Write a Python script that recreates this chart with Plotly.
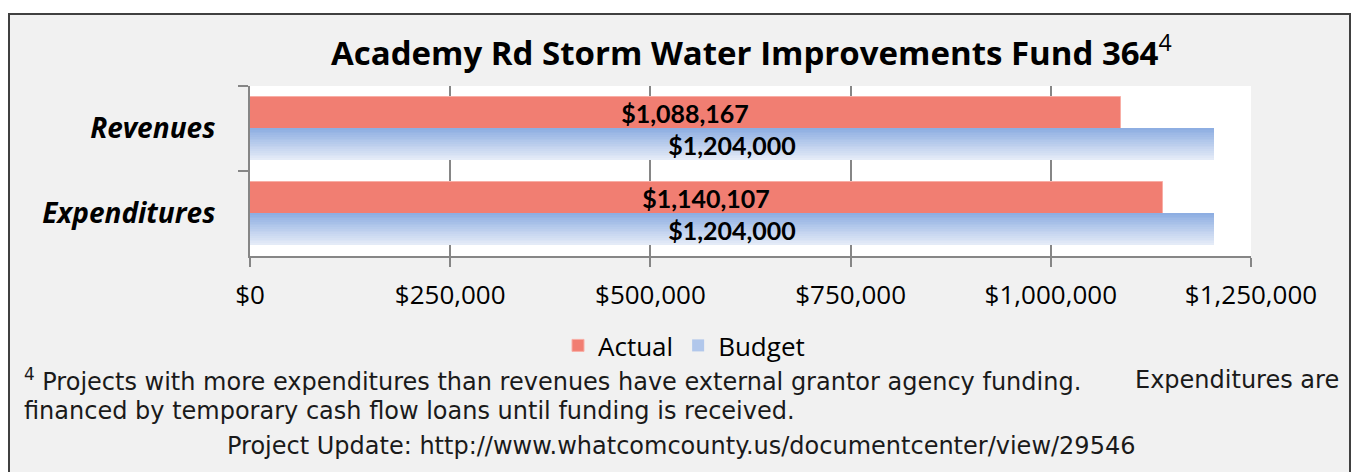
import plotly.graph_objects as go

# ---- data -------------------------------------------------------------
categories = ["Revenues", "Expenditures"]
actual = [1088167, 1140107]
budget = [1204000, 1204000]
actual_labels = ["$1,088,167", "$1,140,107"]
budget_labels = ["$1,204,000", "$1,204,000"]
tick_values = [0, 250000, 500000, 750000, 1000000, 1250000]
tick_labels = ["$0", "$250,000", "$500,000", "$750,000", "$1,000,000", "$1,250,000"]

title_text = "Academy Rd Storm Water Improvements Fund 364"
note_line1a = "<sup>4</sup> Projects with more expenditures than revenues have external grantor agency funding."
note_line1b = "Expenditures are"
note_line2 = "financed by temporary cash flow loans until funding is received."
note_line3 = "Project Update: http://www.whatcomcounty.us/documentcenter/view/29546"

# ---- layout geometry (pixels) ----------------------------------------
FIG_W, FIG_H = 1351, 472
PLOT_L, PLOT_R, PLOT_T, PLOT_B = 250, 1251, 86, 256
PW, PH = PLOT_R - PLOT_L, PLOT_B - PLOT_T


def px(x):
    return (x - PLOT_L) / PW


def py(y):
    return (PLOT_B - y) / PH


LABEL_FONT = "Lato"
HEAD_FONT = "Open Sans"
BODY = "Open Sans"
NOTE_FONT = "DejaVu Sans"
AXIS_GREY = "#868686"
RED = "#f17e72"
BAR_W = 0.375

fig = go.Figure()

# Actual bars (upper half of each category band)
fig.add_trace(go.Bar(
    y=categories, x=actual, orientation="h", name="Actual",
    marker=dict(color=RED, line=dict(color="#f8aea6", width=1)),
    offset=-BAR_W, width=BAR_W,
    text=actual_labels, textposition="inside", insidetextanchor="middle",
    textangle=0, constraintext="none",
    insidetextfont=dict(family=LABEL_FONT, size=25, color="black", weight="bold"),
    showlegend=True, legendrank=1,
))

# Budget bars drawn as thin horizontal strips to give a vertical gradient
top_rgb = (0x8e, 0xae, 0xe2)
bot_rgb = (0xe4, 0xeb, 0xf7)
n_strips = 18
for i in range(n_strips):
    t = i / (n_strips - 1)
    c = tuple(round(a + (b - a) * t) for a, b in zip(top_rgb, bot_rgb))
    fig.add_trace(go.Bar(
        y=categories, x=budget, orientation="h", name="Budget",
        marker=dict(color="rgb(%d,%d,%d)" % c, line=dict(width=0)),
        offset=i * BAR_W / n_strips, width=BAR_W / n_strips * 1.02,
        showlegend=(i == n_strips // 2 - 2), legendrank=2,
        hoverinfo="skip",
    ))

# Budget value labels on a transparent full-height bar
fig.add_trace(go.Bar(
    y=categories, x=budget, orientation="h", name="Budget",
    marker=dict(color="rgba(0,0,0,0)", line=dict(width=0)),
    offset=0, width=BAR_W,
    text=budget_labels, textposition="inside", insidetextanchor="middle",
    textangle=0, constraintext="none",
    insidetextfont=dict(family=LABEL_FONT, size=25, color="black", weight="bold"),
    showlegend=False,
))

# ---- frame, title and notes -----------------------------------------
shapes = [
    # white margin outside the framed panel
    dict(type="rect", xref="paper", yref="paper", x0=px(0), x1=px(FIG_W),
         y0=py(0), y1=py(13), fillcolor="white", line=dict(width=0), layer="above"),
    dict(type="rect", xref="paper", yref="paper", x0=px(0), x1=px(8),
         y0=py(0), y1=py(FIG_H), fillcolor="white", line=dict(width=0), layer="above"),
    # panel border
    dict(type="rect", xref="paper", yref="paper", x0=px(9), x1=px(1350),
         y0=py(14), y1=py(FIG_H + 10), line=dict(color="#404040", width=2),
         fillcolor="rgba(0,0,0,0)", layer="above"),
]

note_font = dict(family=NOTE_FONT, size=24, color="#1a1a1a")
annotations = [
    dict(text="<b>" + title_text + "</b><sup>4</sup>", x=px(751), y=py(50),
         xref="paper", yref="paper", xanchor="center", yanchor="middle",
         showarrow=False, font=dict(family=HEAD_FONT, size=33, color="black")),
    dict(text=note_line1a, x=px(22), y=py(380), xref="paper", yref="paper",
         xanchor="left", yanchor="middle", showarrow=False, font=note_font),
    dict(text=note_line1b, x=px(1341), y=py(380), xref="paper", yref="paper",
         xanchor="right", yanchor="middle", showarrow=False, font=note_font),
    dict(text=note_line2, x=px(22), y=py(411), xref="paper", yref="paper",
         xanchor="left", yanchor="middle", showarrow=False, font=note_font),
    dict(text=note_line3, x=px(681), y=py(446), xref="paper", yref="paper",
         xanchor="center", yanchor="middle", showarrow=False, font=note_font),
]

fig.update_layout(
    width=FIG_W, height=FIG_H,
    margin=dict(l=PLOT_L, r=FIG_W - PLOT_R, t=PLOT_T, b=FIG_H - PLOT_B, pad=0),
    paper_bgcolor="#f1f1f1", plot_bgcolor="white",
    barmode="overlay", bargap=0,
    shapes=shapes, annotations=annotations,
    legend=dict(orientation="h", x=px(558), y=py(322), xanchor="left", yanchor="top",
                font=dict(family=BODY, size=26, color="black"),
                bgcolor="rgba(0,0,0,0)", traceorder="normal"),
    xaxis=dict(range=[0, 1250000], tickvals=tick_values, ticktext=tick_labels,
               showgrid=True, gridcolor=AXIS_GREY, gridwidth=2,
               showline=True, linecolor=AXIS_GREY, linewidth=2,
               ticks="outside", ticklen=9, tickwidth=2, tickcolor=AXIS_GREY,
               tickfont=dict(family=BODY, size=26, color="black"),
               ticklabelstandoff=6,
               zeroline=False, fixedrange=True),
    yaxis=dict(type="category", categoryarray=categories, categoryorder="array",
               range=[1.5, -0.5], tickson="boundaries",
               showgrid=False, zeroline=False,
               showline=True, linecolor=AXIS_GREY, linewidth=2,
               ticks="outside", ticklen=10, tickwidth=2, tickcolor=AXIS_GREY,
               tickfont=dict(family=HEAD_FONT, size=28, color="black",
                             weight="bold", style="italic"),
               ticklabelstandoff=27, fixedrange=True),
)

fig.write_html("out.html")
